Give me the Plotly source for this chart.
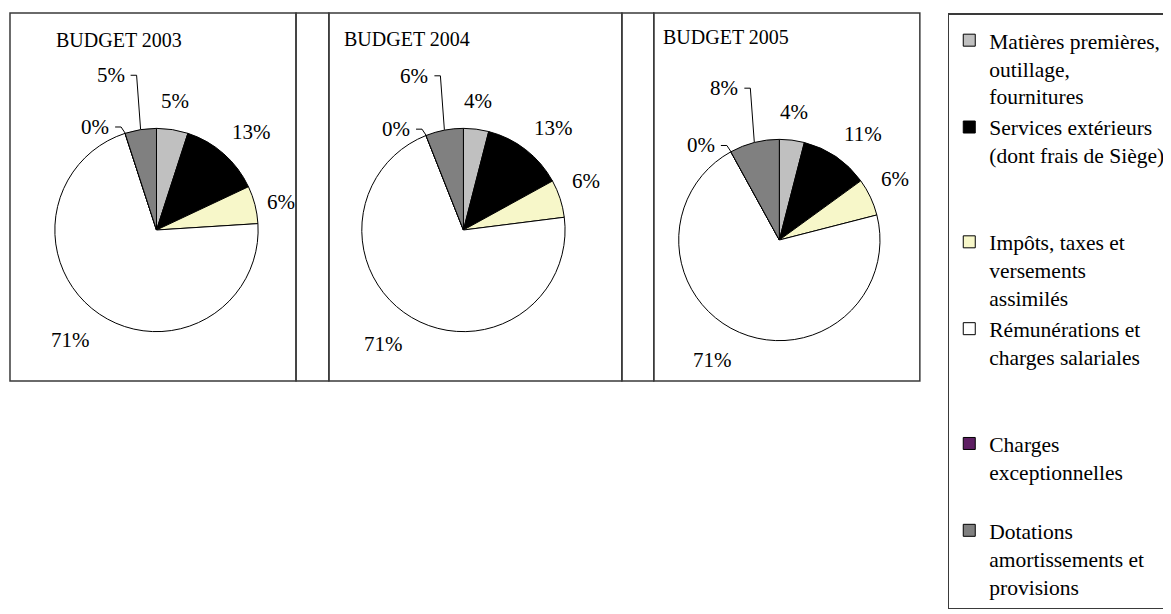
import math
import plotly.graph_objects as go

# ---- data ----
categories = [
    ["Matières premières,", "outillage,", "fournitures"],
    ["Services extérieurs", "(dont frais de Siège)"],
    ["Impôts, taxes et", "versements", "assimilés"],
    ["Rémunérations et", "charges salariales"],
    ["Charges", "exceptionnelles"],
    ["Dotations", "amortissements et", "provisions"],
]
years = ["BUDGET 2003", "BUDGET 2004", "BUDGET 2005"]
budget_2003 = [5, 13, 6, 71, 0, 5]
budget_2004 = [4, 13, 6, 71, 0, 6]
budget_2005 = [4, 11, 6, 71, 0, 8]
colors = ["#c0c0c0", "#000000", "#f7f7c9", "#ffffff", "#5e1f63", "#808080"]

# the page body has an 8px margin, so the figure is shifted by that much
OFF = 8
W, H = 1171 - OFF, 614 - OFF
FONT = "Liberation Serif"


def px(x):
    return (x - OFF) / W


def py(y):
    return 1 - (y - OFF) / H


# legend rows padded so the blocks are spread like in the original
legend_rows = [3, 4, 3, 4, 3, 3]
labels = []
for lines, n in zip(categories, legend_rows):
    labels.append("<br>".join(lines + [""] * (n - len(lines))))

# pie placement (pixels): centre x, centre y, radius, title pos, frame
pies = [
    (budget_2003, 157, 230, 102, 54, 40, (10, 13, 297, 381)),
    (budget_2004, 465, 230, 102, 343, 39, (330, 13, 624, 381)),
    (budget_2005, 782, 240, 101, 663, 37, (656, 13, 923, 381)),
]
spacer_boxes = [(297, 13, 330, 381), (624, 13, 656, 381)]

fig = go.Figure()
annotations = []
shapes = []

for k, (vals, cx, cy, r, tx, ty, box) in enumerate(pies):
    fig.add_trace(go.Pie(
        values=vals,
        labels=labels,
        sort=False,
        direction="clockwise",
        rotation=0,
        textinfo="none",
        hoverinfo="label+percent",
        marker=dict(colors=colors, line=dict(color="black", width=1)),
        domain=dict(x=[px(cx - r), px(cx + r)], y=[py(cy + r), py(cy - r)]),
        showlegend=(k == 0),
    ))

    # frame and title
    x0, y0, x1, y1 = box
    shapes.append(dict(type="rect", xref="paper", yref="paper",
                       x0=px(x0), x1=px(x1), y0=py(y1), y1=py(y0),
                       line=dict(color="#3a3a3a", width=1.5)))
    annotations.append(dict(text=years[k], x=px(tx), y=py(ty), xref="paper", yref="paper",
                            xanchor="left", yanchor="middle", showarrow=False,
                            font=dict(family=FONT, size=20, color="black")))

    # percentage labels
    total = sum(vals)
    cum = 0
    for i, v in enumerate(vals):
        mid = math.radians((cum + v / 2) / total * 360)
        cum += v
        s, c = math.sin(mid), math.cos(mid)
        rim_x, rim_y = cx + r * s, cy - r * c
        txt = f"{round(v / total * 100)}%"
        if i >= 4:
            # small slices near the top: label pulled out with a leader line
            dy = -54 if v > 0 else -6
            lx, ly = rim_x - 14, rim_y + dy
            annotations.append(dict(text=txt, x=px(lx), y=py(ly), xref="paper", yref="paper",
                                    xanchor="right", yanchor="middle", showarrow=False,
                                    font=dict(family=FONT, size=21, color="black")))
            path = (f"M {px(lx + 4)},{py(ly)} L {px(rim_x - 4)},{py(ly)} "
                    f"L {px(rim_x)},{py(rim_y)}")
            shapes.append(dict(type="path", xref="paper", yref="paper", path=path,
                               line=dict(color="black", width=1)))
            continue
        xa = "left" if s > 0.3 else ("right" if s < -0.3 else "center")
        ya = "bottom" if c > 0.3 else ("top" if c < -0.3 else "middle")
        d = r + (10 if xa == "left" else 14)
        ax, ay = cx + d * s, cy - d * c
        annotations.append(dict(text=txt, x=px(ax), y=py(ay), xref="paper", yref="paper",
                                xanchor=xa, yanchor=ya, showarrow=False,
                                font=dict(family=FONT, size=21, color="black")))

for x0, y0, x1, y1 in spacer_boxes:
    shapes.append(dict(type="rect", xref="paper", yref="paper",
                       x0=px(x0), x1=px(x1), y0=py(y1), y1=py(y0),
                       line=dict(color="#3a3a3a", width=1.5)))

fig.update_layout(
    width=W,
    height=H,
    margin=dict(l=0, r=0, t=0, b=0),
    paper_bgcolor="white",
    plot_bgcolor="white",
    font=dict(family=FONT, color="black"),
    shapes=shapes,
    annotations=annotations,
    legend=dict(
        x=px(951), y=py(13), xanchor="left", yanchor="top",
        valign="top",
        bgcolor="white",
        bordercolor="#3a3a3a", borderwidth=1.5,
        font=dict(family=FONT, size=21.5, color="black"),
        title=dict(text=" ", font=dict(size=4)),
        traceorder="normal",
    ),
)

fig.write_html("out.html")
